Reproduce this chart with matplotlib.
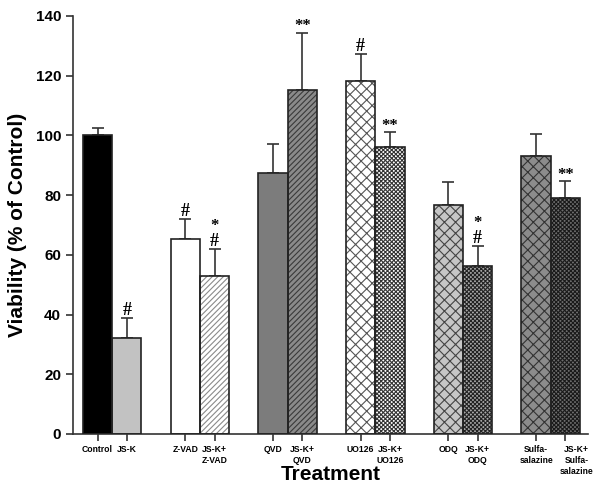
import numpy as np
import matplotlib
matplotlib.use('Agg')
import matplotlib.pyplot as plt
import matplotlib.transforms as mtransforms

plt.rcParams['font.family'] = ['Liberation Sans', 'DejaVu Sans']
plt.rcParams['font.weight'] = 'bold'
plt.rcParams['hatch.linewidth'] = 0.8

labels = ['Control', 'JS-K', 'Z-VAD', 'JS-K+\nZ-VAD', 'QVD', 'JS-K+\nQVD',
          'UO126', 'JS-K+\nUO126', 'ODQ', 'JS-K+\nODQ',
          'Sulfa-\nsalazine', 'JS-K+\nSulfa-\nsalazine']
values = [100, 32, 65.3, 53, 87.5, 115.2, 118.2, 96, 76.7, 56.4, 93.1, 79.1]
errors = [2.5, 6.7, 6.7, 9, 9.6, 19.2, 9, 5, 7.7, 6.6, 7.3, 5.6]
marks = ['', '#', '#', '#', '', '**', '#', '**', '', '#', '', '**']
stars = ['', '', '', '*', '', '', '', '', '', '*', '', '']

fills = ['black', '#c2c2c2', 'white', 'white', '#7c7c7c', '#8a8a8a',
         'white', 'white', '#c6c6c6', '#a8a8a8', '#8c8c8c', '#6e6e6e']
hatches = [None, None, None, '//////', None, '//////',
           'xxx', 'xxxxxxxx', 'xxx', 'xxxxxxxx', 'xxx', 'xxxxxxxx']
hcolors = [None, None, None, '#8a8a8a', None, '#3a3a3a',
           '#555555', '#333333', '#444444', '#222222', '#333333', '#1a1a1a']

x = np.array([0, 1, 3, 4, 6, 7, 9, 10, 12, 13, 15, 16], dtype=float)

fig = plt.figure(figsize=(6, 4.92), dpi=100)
ax = fig.add_axes([0.1217, 0.118, 0.858, 0.8495])

ax.errorbar(x, values, yerr=[np.zeros(len(x)), errors], fmt='none',
            ecolor='#333333', elinewidth=1.2, capsize=4, capthick=1.2, zorder=1)

for i in range(len(x)):
    ax.bar(x[i], values[i], width=1.0, color=fills[i], edgecolor=hcolors[i] or 'none',
           hatch=hatches[i], linewidth=0, zorder=2)
ax.bar(x, values, width=1.0, fill=False, edgecolor='#222222', linewidth=1.2, zorder=3)

for i in range(len(x)):
    top = values[i] + errors[i]
    if marks[i] == '#':
        ax.text(x[i], top - 0.3, '#', ha='center', va='bottom', fontsize=13,
                family='Liberation Serif', fontweight='bold')
        if stars[i]:
            ax.text(x[i], top + 5.0, '*', ha='center', va='bottom', fontsize=12,
                    family='Liberation Serif', fontweight='bold')
    elif marks[i] == '**':
        ax.text(x[i], top - 0.5, '**', ha='center', va='bottom', fontsize=12,
                family='Liberation Serif', fontweight='bold')

ax.set_xlim(-0.84, 16.77)
ax.set_ylim(0, 140)
ax.set_yticks(np.arange(0, 141, 20))
ax.set_xticks(x)
ax.set_xticklabels(labels, fontsize=6.2, linespacing=1.25)
ax.tick_params(axis='y', labelsize=11, length=5, width=1.2, direction='out', color='#333333')
ax.tick_params(axis='x', length=5, width=1.2, direction='out', color='#333333', pad=3)

# nudge the last label right so the two "salazine" lines don't collide
last = ax.get_xticklabels()[-1]
last.set_transform(last.get_transform() +
                   mtransforms.ScaledTranslation(8 / 72, 0, fig.dpi_scale_trans))

for s in ['top', 'right']:
    ax.spines[s].set_visible(False)
for s in ['left', 'bottom']:
    ax.spines[s].set_linewidth(1.2)
    ax.spines[s].set_color('#333333')

ax.set_ylabel('Viability (% of Control)', fontsize=15, fontweight='bold')
ax.yaxis.set_label_coords(-0.09, 0.5)
ax.set_xlabel('Treatment', fontsize=15, fontweight='bold')
ax.xaxis.set_label_coords(0.5, -0.075)

fig.savefig('out.png', dpi=100)
